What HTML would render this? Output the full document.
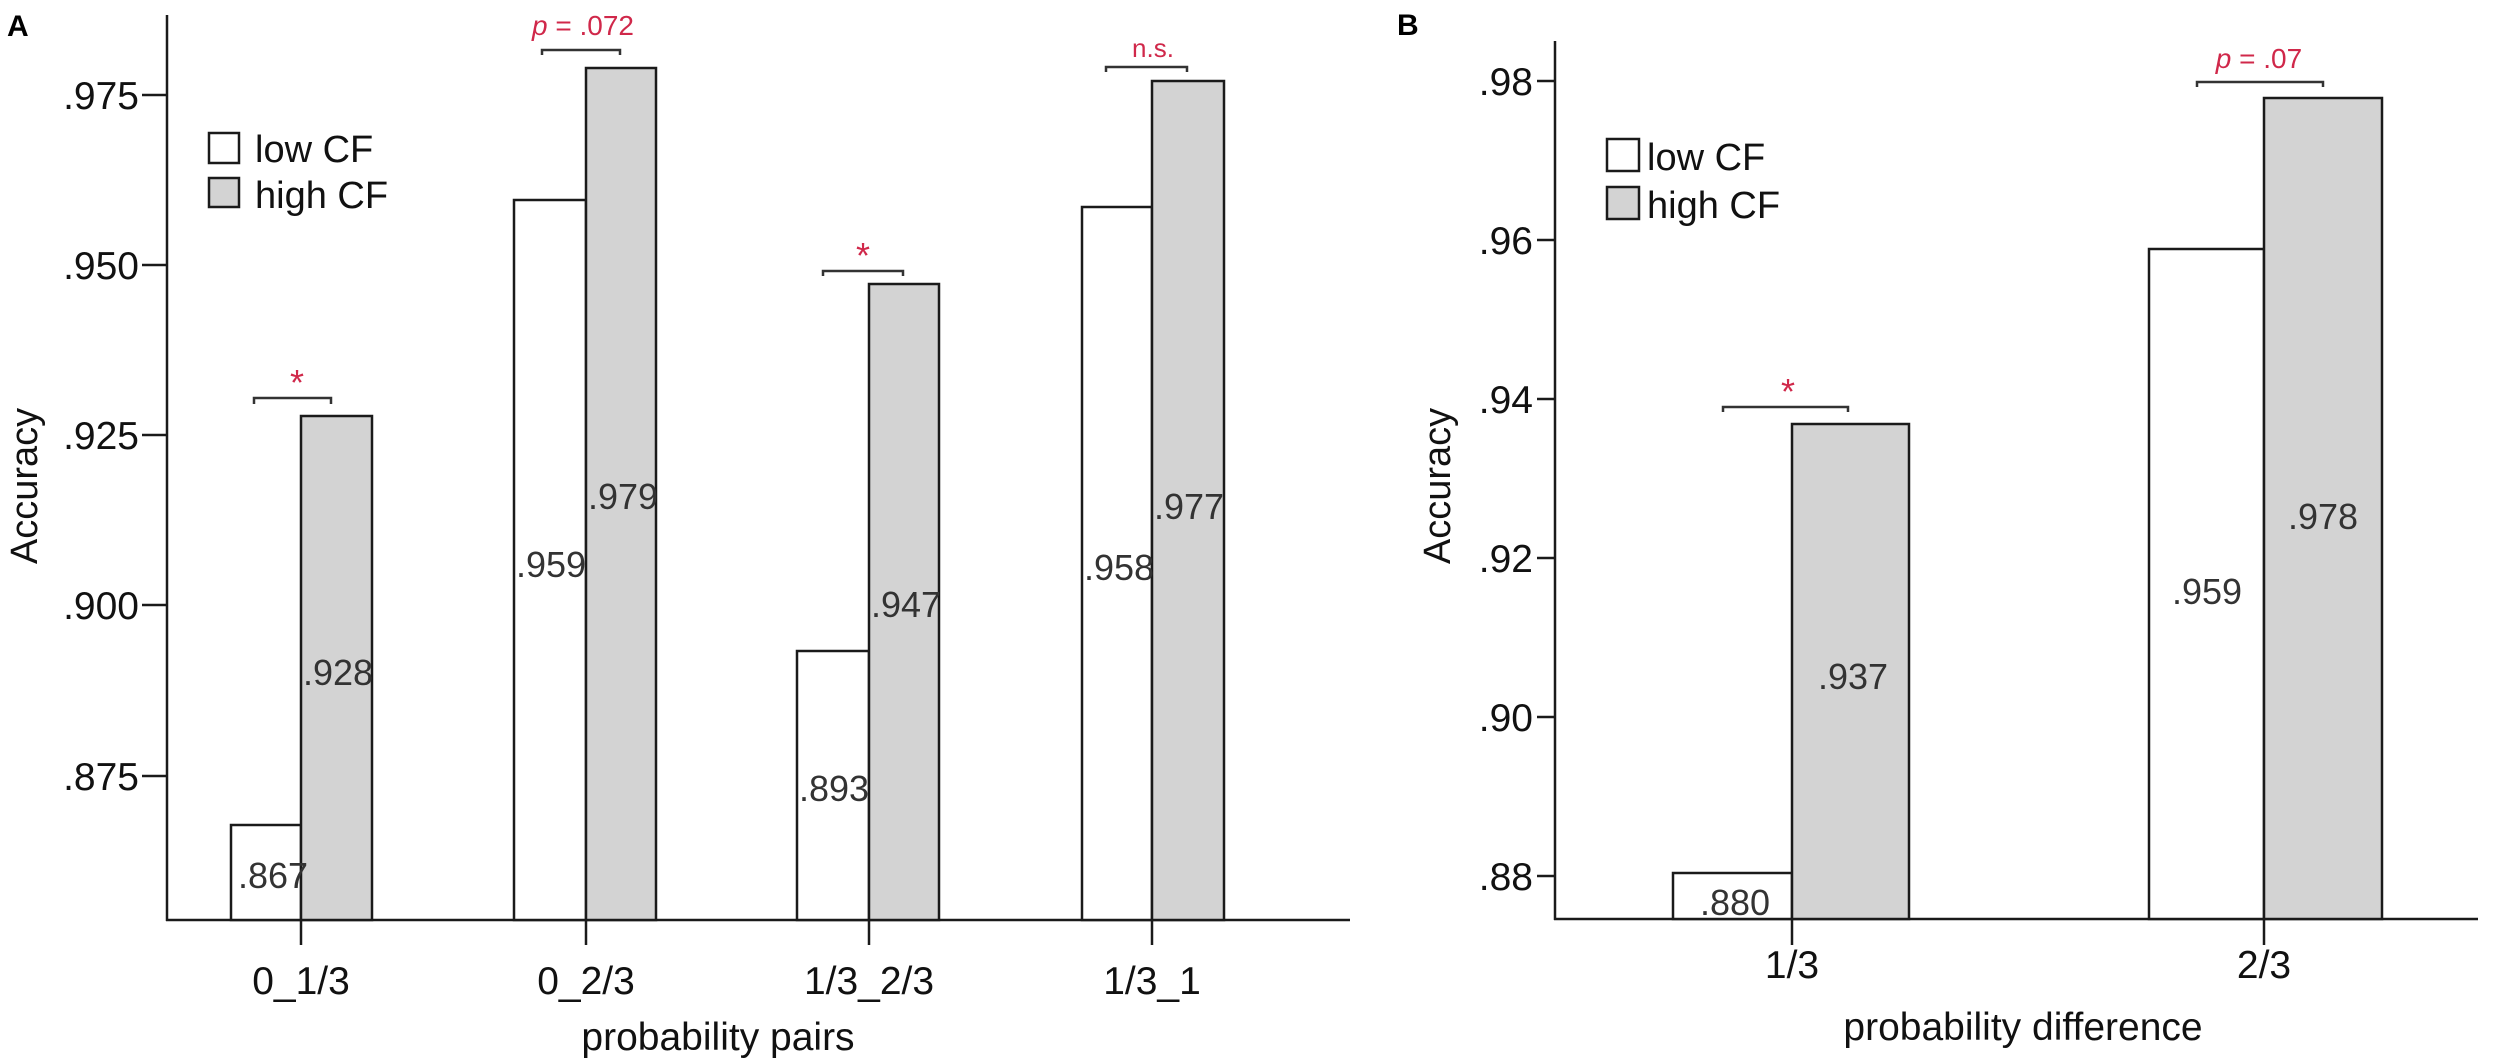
<!DOCTYPE html>
<html><head><meta charset="utf-8"><style>
html,body{margin:0;padding:0;background:#fff;}
svg{display:block;font-family:"Liberation Sans",Arial,sans-serif;}
</style></head><body>
<svg width="2500" height="1063" viewBox="0 0 2500 1063" xmlns="http://www.w3.org/2000/svg">
<g stroke="#1a1a1a" stroke-width="2.5" fill="none">
<line x1="167" y1="15" x2="167" y2="921"/>
<line x1="166" y1="920" x2="1350" y2="920"/>
<line x1="142" y1="95" x2="167" y2="95"/>
<line x1="142" y1="265" x2="167" y2="265"/>
<line x1="142" y1="435" x2="167" y2="435"/>
<line x1="142" y1="605" x2="167" y2="605"/>
<line x1="142" y1="776" x2="167" y2="776"/>
<line x1="301" y1="920" x2="301" y2="945"/>
<line x1="586" y1="920" x2="586" y2="945"/>
<line x1="869" y1="920" x2="869" y2="945"/>
<line x1="1152" y1="920" x2="1152" y2="945"/>
<line x1="1555" y1="41" x2="1555" y2="920"/>
<line x1="1554" y1="919" x2="2478" y2="919"/>
<line x1="1537" y1="81" x2="1555" y2="81"/>
<line x1="1537" y1="240" x2="1555" y2="240"/>
<line x1="1537" y1="399" x2="1555" y2="399"/>
<line x1="1537" y1="558" x2="1555" y2="558"/>
<line x1="1537" y1="717" x2="1555" y2="717"/>
<line x1="1537" y1="876" x2="1555" y2="876"/>
<line x1="1792" y1="919" x2="1792" y2="945"/>
<line x1="2264" y1="919" x2="2264" y2="945"/>
</g>
<g stroke="#1a1a1a" stroke-width="2.5">
<rect x="231" y="825" width="70" height="95" fill="#fff"/>
<rect x="301" y="416" width="71" height="504" fill="#d3d3d3"/>
<rect x="514" y="200" width="72" height="720" fill="#fff"/>
<rect x="586" y="68" width="70" height="852" fill="#d3d3d3"/>
<rect x="797" y="651" width="72" height="269" fill="#fff"/>
<rect x="869" y="284" width="70" height="636" fill="#d3d3d3"/>
<rect x="1082" y="207" width="70" height="713" fill="#fff"/>
<rect x="1152" y="81" width="72" height="839" fill="#d3d3d3"/>
<rect x="1673" y="873" width="119" height="46" fill="#fff"/>
<rect x="1792" y="424" width="117" height="495" fill="#d3d3d3"/>
<rect x="2149" y="249" width="115" height="670" fill="#fff"/>
<rect x="2264" y="98" width="118" height="821" fill="#d3d3d3"/>
<rect x="209" y="133" width="30" height="30" fill="#fff"/>
<rect x="209" y="178" width="30" height="29" fill="#d3d3d3"/>
<rect x="1607" y="139" width="32" height="32" fill="#fff"/>
<rect x="1607" y="187" width="32" height="32" fill="#d3d3d3"/>
</g>
<g stroke="#333" stroke-width="2.5" fill="none">
<polyline points="254,404 254,398 331,398 331,404"/>
<polyline points="542,55 542,50 620,50 620,55"/>
<polyline points="823,276 823,271 903,271 903,276"/>
<polyline points="1106,72 1106,67 1187,67 1187,72"/>
<polyline points="1723,412 1723,407 1848,407 1848,412"/>
<polyline points="2197,87 2197,82 2323,82 2323,87"/>
</g>
<g font-size="39" fill="#111" text-anchor="end">
<text x="139" y="109">.975</text>
<text x="139" y="279">.950</text>
<text x="139" y="449">.925</text>
<text x="139" y="619">.900</text>
<text x="139" y="790">.875</text>
<text x="1533" y="95">.98</text>
<text x="1533" y="254">.96</text>
<text x="1533" y="413">.94</text>
<text x="1533" y="572">.92</text>
<text x="1533" y="731">.90</text>
<text x="1533" y="890">.88</text>
</g>
<g font-size="39" fill="#111" text-anchor="middle">
<text x="301" y="994">0_1/3</text>
<text x="586" y="994">0_2/3</text>
<text x="869" y="994">1/3_2/3</text>
<text x="1152" y="994">1/3_1</text>
<text x="1792" y="978">1/3</text>
<text x="2264" y="978">2/3</text>
<text x="718" y="1050">probability pairs</text>
<text x="2023" y="1040">probability difference</text>
</g>
<g font-size="38" fill="#111" text-anchor="middle">
<text transform="translate(37,486) rotate(-90)">Accuracy</text>
<text transform="translate(1450,486) rotate(-90)">Accuracy</text>
</g>
<g font-size="38" fill="#111">
<text x="255" y="162">low CF</text>
<text x="255" y="208">high CF</text>
<text x="1647" y="170">low CF</text>
<text x="1647" y="218">high CF</text>
</g>
<g font-size="30" font-weight="bold" fill="#000">
<text x="7" y="36">A</text>
<text x="1397" y="35">B</text>
</g>
<g font-size="36" fill="#333">
<text x="238" y="888">.867</text>
<text x="303" y="685">.928</text>
<text x="516" y="577">.959</text>
<text x="588" y="509">.979</text>
<text x="799" y="801">.893</text>
<text x="871" y="617">.947</text>
<text x="1084" y="580">.958</text>
<text x="1154" y="519">.977</text>
<text x="1700" y="915">.880</text>
<text x="1818" y="689">.937</text>
<text x="2172" y="604">.959</text>
<text x="2288" y="529">.978</text>
</g>
<g fill="#d0284a" text-anchor="middle">
<text x="297" y="395" font-size="36">*</text>
<text x="863" y="268" font-size="36">*</text>
<text x="1788" y="404" font-size="36">*</text>
<text x="583" y="35" font-size="28"><tspan font-style="italic">p</tspan> = .072</text>
<text x="1153" y="57" font-size="26">n.s.</text>
<text x="2259" y="68" font-size="28"><tspan font-style="italic">p</tspan> = .07</text>
</g>
</svg>
</body></html>
